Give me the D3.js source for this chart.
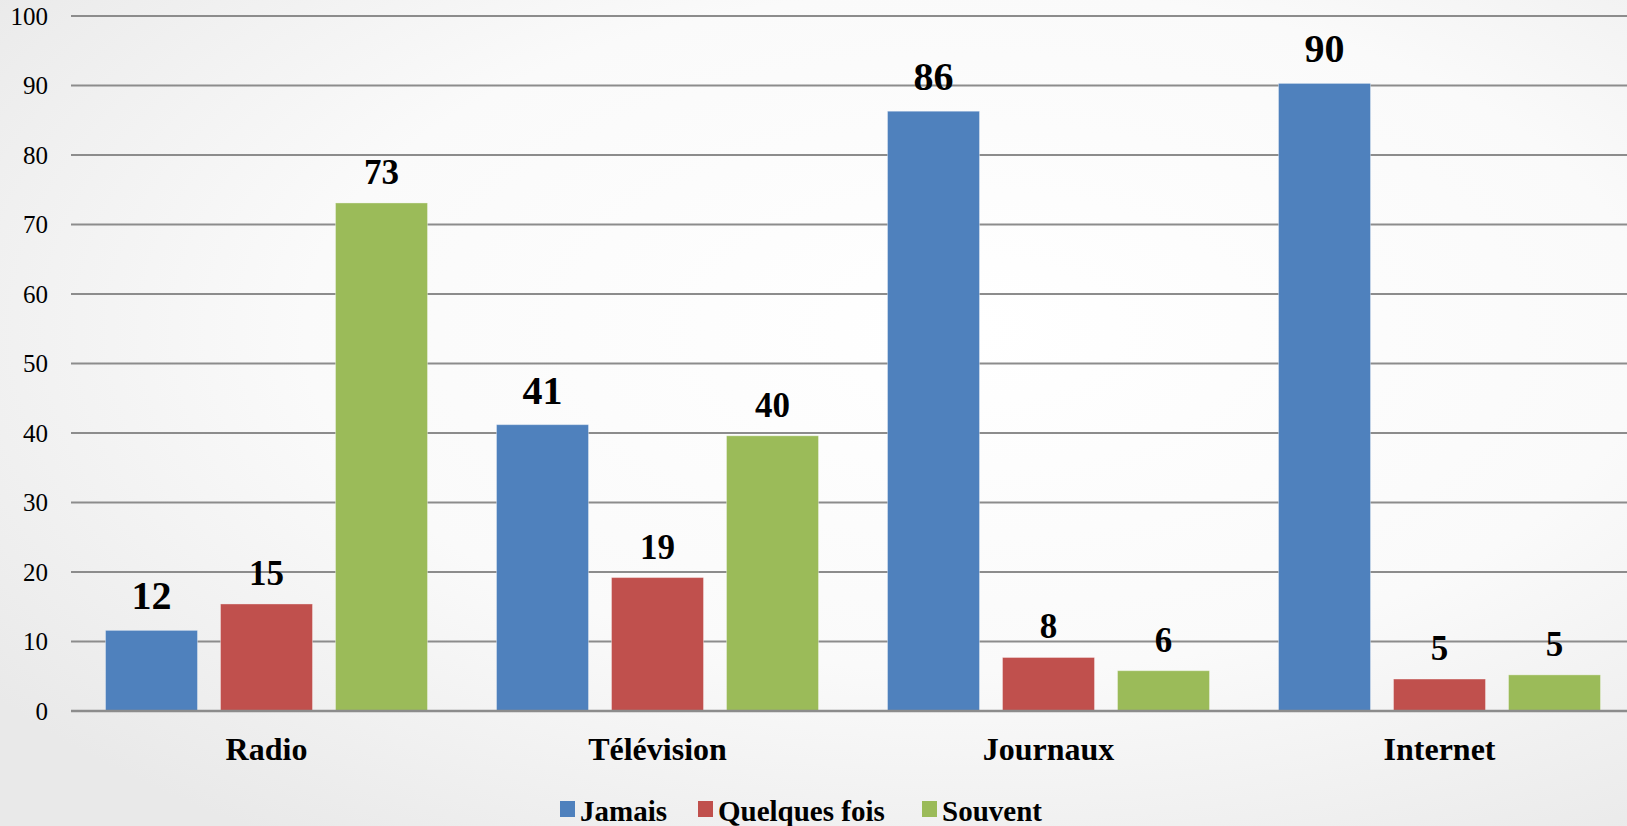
<!DOCTYPE html>
<html>
<head>
<meta charset="utf-8">
<script src="https://cdn.jsdelivr.net/npm/d3@7"></script>
<style>
  html, body { margin: 0; padding: 0; overflow: hidden; }
  svg { display: block; }
</style>
</head>
<body>
<svg id="chart"></svg>
<script>
// data
const categories = ["Radio", "Télévision", "Journaux", "Internet"];
const series = ["Jamais", "Quelques fois", "Souvent"];
const jamais = [11.6, 41.2, 86.3, 90.3];
const quelquesFois = [15.4, 19.2, 7.7, 4.6];
const souvent = [73.1, 39.6, 5.8, 5.2];
const yTicks = [0, 10, 20, 30, 40, 50, 60, 70, 80, 90, 100];
const colors = ["#4F81BD", "#C0504D", "#9BBB59"];

const W = 1627, H = 826;
const values = [jamais, quelquesFois, souvent];

const svg = d3.select("#chart").attr("width", W).attr("height", H);
const font = "'Liberation Serif', 'Times New Roman', serif";

// background gradient
const defs = svg.append("defs");
const grad = defs.append("radialGradient")
  .attr("id", "bg").attr("cx", "60%").attr("cy", "40%").attr("r", "75%");
grad.append("stop").attr("offset", "0%").attr("stop-color", "#ffffff");
grad.append("stop").attr("offset", "55%").attr("stop-color", "#fafafa");
grad.append("stop").attr("offset", "100%").attr("stop-color", "#e9e9e9");
svg.append("rect").attr("width", W).attr("height", H).attr("fill", "url(#bg)");

// scales
const x0 = d3.scaleBand().domain(categories).range([71, 1635])
  .paddingInner(0.1765).paddingOuter(0.08825);
const x1 = d3.scaleBand().domain(series).range([0, x0.bandwidth()]).paddingInner(0.2);
const y = d3.scaleLinear().domain([0, 100]).range([711, 16]);

// gridlines
svg.append("g").selectAll("line")
  .data(yTicks)
  .enter()
  .append("line")
    .attr("x1", 71).attr("x2", W)
    .attr("y1", d => y(d)).attr("y2", d => y(d))
    .attr("stroke", "#8c8c8c")
    .attr("stroke-width", 2);

// y axis labels
svg.append("g").selectAll("text")
  .data(yTicks)
  .enter()
  .append("text")
    .text(d => d)
    .attr("x", 48)
    .attr("y", d => y(d))
    .attr("dy", "0.34em")
    .attr("text-anchor", "end")
    .attr("font-family", font)
    .attr("font-size", "25px")
    .attr("fill", "#000");

// flatten rows
const rows = [];
categories.forEach((c, i) => {
  series.forEach((s, j) => {
    rows.push({cat: c, ser: s, j: j, v: values[j][i]});
  });
});

// bars
svg.append("g").selectAll("rect")
  .data(rows)
  .enter()
  .append("rect")
    .attr("x", d => x0(d.cat) + x1(d.ser))
    .attr("y", d => y(d.v))
    .attr("width", x1.bandwidth())
    .attr("height", d => y(0) - y(d.v))
    .attr("fill", d => colors[d.j])
    .attr("stroke", "rgba(255,255,255,0.35)")
    .attr("stroke-width", 1);

// axis line redrawn over bars
svg.append("line")
  .attr("x1", 71).attr("x2", W)
  .attr("y1", y(0)).attr("y2", y(0))
  .attr("stroke", "#8c8c8c")
  .attr("stroke-width", 2.5);

// value labels
svg.append("g").selectAll("text")
  .data(rows)
  .enter()
  .append("text")
    .text(d => d3.format(".0f")(d.v))
    .attr("x", d => x0(d.cat) + x1(d.ser) + x1.bandwidth() / 2)
    .attr("y", d => y(d.v) - (d.j === 0 ? 21 : 19))
    .attr("text-anchor", "middle")
    .attr("font-family", font)
    .attr("font-weight", "bold")
    .attr("font-size", d => d.j === 0 ? "40px" : "35px")
    .attr("fill", "#000");

// category labels
svg.append("g").selectAll("text")
  .data(categories)
  .enter()
  .append("text")
    .text(d => d)
    .attr("x", d => x0(d) + x0.bandwidth() / 2)
    .attr("y", 760)
    .attr("text-anchor", "middle")
    .attr("font-family", font)
    .attr("font-weight", "bold")
    .attr("font-size", "32px")
    .attr("fill", "#000");

// legend
const legendX = [560, 698, 922];
const legend = svg.append("g").selectAll("g")
  .data(series)
  .enter()
  .append("g")
    .attr("transform", (d, i) => `translate(${legendX[i]},801)`);
legend.append("rect")
  .attr("width", 15).attr("height", 16)
  .attr("fill", (d, i) => colors[i]);
legend.append("text")
  .text(d => d)
  .attr("x", 20)
  .attr("y", 20)
  .attr("font-family", font)
  .attr("font-weight", "bold")
  .attr("font-size", "29px")
  .attr("fill", "#000");
</script>
</body>
</html>
